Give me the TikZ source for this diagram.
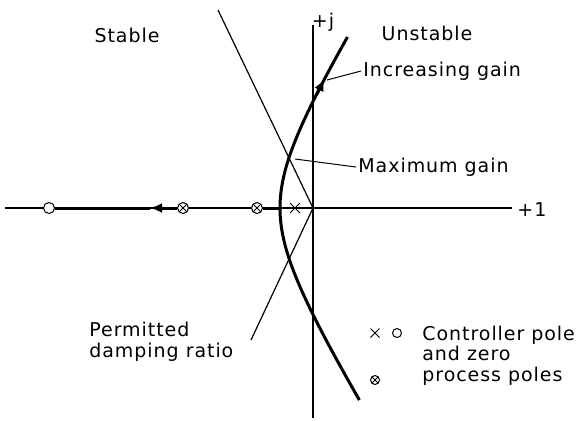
\documentclass[tikz,border=0pt]{standalone}
\usepackage{fontspec}
\setmainfont{DejaVu Sans}[LetterSpace=5]
\usepackage{tikz}
\usetikzlibrary{arrows.meta,shapes.misc}

\tikzset{
  locus/.style={line width=1.5pt},
  axisline/.style={line width=0.7pt},
  ratioline/.style={line width=0.6pt},
  leader/.style={line width=0.5pt},
  lbl/.style={font=\fontsize{9.5}{10.25}\selectfont, inner sep=1pt},
  zeromark/.style={circle, draw, fill=white, line width=0.5pt, minimum size=5.5pt, inner sep=0pt},
  polemark/.style={cross out, draw, line width=0.5pt, minimum size=4.5pt, inner sep=0pt},
  procmark/.style={circle, draw, fill=white, line width=0.5pt, minimum size=5.5pt, inner sep=0pt,
    path picture={\draw[line width=0.4pt]
      (path picture bounding box.north west) -- (path picture bounding box.south east)
      (path picture bounding box.south west) -- (path picture bounding box.north east);}},
  tip/.style={-{Latex[length=6pt,width=5pt]}}
}

\begin{document}
\begin{tikzpicture}[x=0.5pt, y=-0.5pt]
            \useasboundingbox (0,0) rectangle (578,420);

            % Axis
            \coordinate (origin) at (313,208);
            \draw[axisline] (5,208) -- (512,208);
            \draw[axisline] (313,25) -- (313,418);

            % Permitted damping ratio lines
            \draw[ratioline] (218,10) -- (origin) -- (251,340);

            % Poles and zero
            \node[zeromark] (zero) at (49,208) {};
            \node[procmark] (pole1) at (183,208) {};
            \node[procmark] (pole2) at (257,208) {};
            \node[polemark] (cpole) at (295,208) {};
            \coordinate (brk) at (280,208);

            % Root locus
            \draw[line width=1pt] (5,208) -- (zero);
            \coordinate (axtip) at (150,208);
            \draw[locus] (axtip) -- (zero);
            \draw[locus, tip] (pole1) -- (axtip);
            \draw[locus] (pole2) -- (brk);
            \draw[locus, domain=-192:171, samples=90]
              plot({280+6.2*(sqrt((\x/10)^2+64)-8)}, {208-\x});
            \coordinate (curvetail) at (316.5,95);
            \coordinate (curvetip) at (324.5,79);
            \draw[locus, tip] (curvetail) -- (curvetip);

            % Labels
            \node[lbl] (stable) at (127,35) {Stable};
            \node[lbl] (unstable) at (427,33) {Unstable};
            \node[lbl] (plusj) at (323,22) {+j};
            \node[lbl, anchor=west] (plusone) at (515,210) {+1};
            \node[lbl, anchor=west] (incgain) at (361,71) {Increasing gain};
            \node[lbl, anchor=west] (maxgain) at (356,167) {Maximum gain};
            \node[lbl, anchor=base west, align=left] (damping) at (87,357) {Permitted\\damping ratio};

            \coordinate (gainpt) at (327,80);
            \coordinate (maxpt) at (295,159);
            \draw[leader] (gainpt) -- (incgain.west);
            \draw[leader] (maxpt) -- (maxgain.west);

            % Legend
            \node[polemark, minimum size=4pt] (lgcross) at (375,333) {};
            \node[zeromark, minimum size=4.5pt] (lgzero) at (397,333) {};
            \node[procmark, minimum size=4.5pt] (lgproc) at (375,380) {};
            \node[lbl, anchor=base west, align=left] (legend) at (420,381) {Controller pole\\and zero\\process poles};

        \end{tikzpicture}
\end{document}
